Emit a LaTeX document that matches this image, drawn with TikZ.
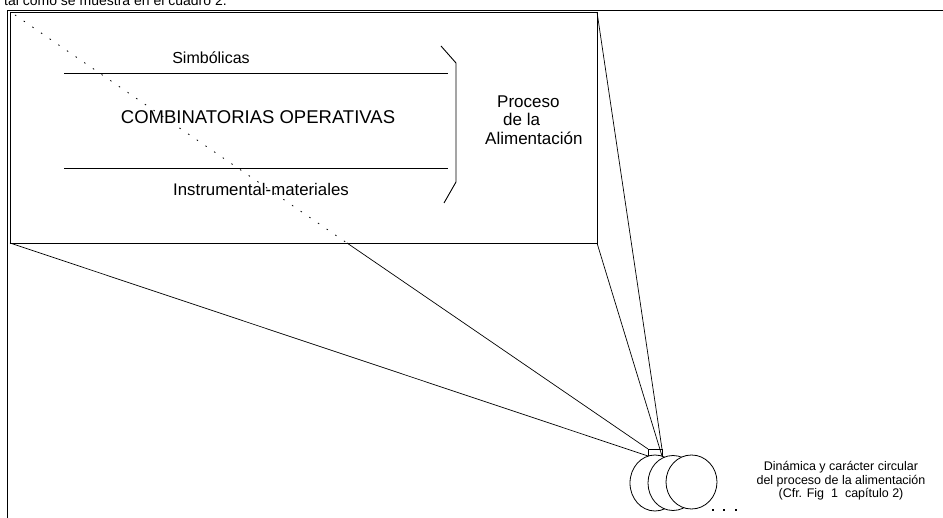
\documentclass[tikz,border=0pt]{standalone}
\usepackage{fontspec}
\setmainfont{Liberation Sans}
\tikzset{
  ln/.style={line width=0.9pt, black},
  thin/.style={line width=0.7pt, black},
  hid/.style={line width=0.8pt, dash pattern=on 1.5pt off 9pt},
  lbl/.style={inner sep=0pt, align=center},
  disc/.style={line width=0.8pt, draw=black, fill=white},
  side/.style={anchor=base west, inner sep=0pt, font=\fontsize{17}{20}\selectfont}
}
\begin{document}
\begin{tikzpicture}[x=1pt,y=-1pt]
\useasboundingbox (0,0) rectangle (943,518);
\clip (0,0) rectangle (943,518);
% partial line of text at the very top
\node[anchor=base west, inner sep=0pt, font=\fontsize{14}{17}\selectfont] (top) at (4,6) {tal como se muestra en el cuadro 2.};
% outer frame
\draw[ln] (7,530) -- (7,10) -- (945,10);
% corners of the plane and of its small image
\coordinate (TL) at (10,12);
\coordinate (TR) at (597,12);
\coordinate (BR) at (597,243);
\coordinate (BL) at (10,243);
\coordinate (bTL) at (648,449);
\coordinate (bTR) at (662,449);
\coordinate (bBR) at (662,456);
\coordinate (bBL) at (648,456);
% the plane
\draw[ln] (TL) rectangle (BR);
% projection lines
\draw[hid] (15,15) -- (347,243);
\draw[thin] (347,243) -- (bTL);
\draw[thin] (BL) -- (bBL);
\draw[thin] (TR) -- (bTR);
\draw[thin] (BR) -- (bBR);
% horizontal rules and bracket
\draw[ln] (64,73) -- (448,73);
\draw[ln] (64,168) -- (448,168);
\draw[ln] (441,46) -- (456,63) -- (456,182) -- (444,203);
% texts in the plane
\node[lbl, font=\fontsize{16}{19}\selectfont] (simb) at (211,58) {Simbólicas};
\node[lbl, font=\fontsize{18.5}{22}\selectfont] (comb) at (258,117) {COMBINATORIAS OPERATIVAS};
\node[lbl, font=\fontsize{16.8}{20}\selectfont] (instr) at (261,189) {Instrumental-materiales};
\node[side] (p1) at (497,108) {Proceso};
\node[side] (p2) at (503,126) {de la};
\node[side] (p3) at (485,145) {Alimentación};
% small image of the plane
\draw[thin] (bTL) rectangle (bBR);
% circles
\draw[disc] (655,483) ellipse [x radius=25, y radius=28];
\draw[disc] (673,483) ellipse [x radius=25, y radius=27.5];
\draw[disc] (691.5,482) ellipse [x radius=25.5, y radius=27];
% dots
\foreach \xx in {713,724,736}{\fill (\xx-1.4,508.6) rectangle (\xx+1.4,511.4);}
% caption
\node[lbl, font=\fontsize{12.5}{13.5}\selectfont] (cap) at (841,481) {Dinámica y carácter circular\\del proceso de la alimentación\\(Cfr. Fig\ \ 1\ \ capítulo 2)};
\end{tikzpicture}
\end{document}
